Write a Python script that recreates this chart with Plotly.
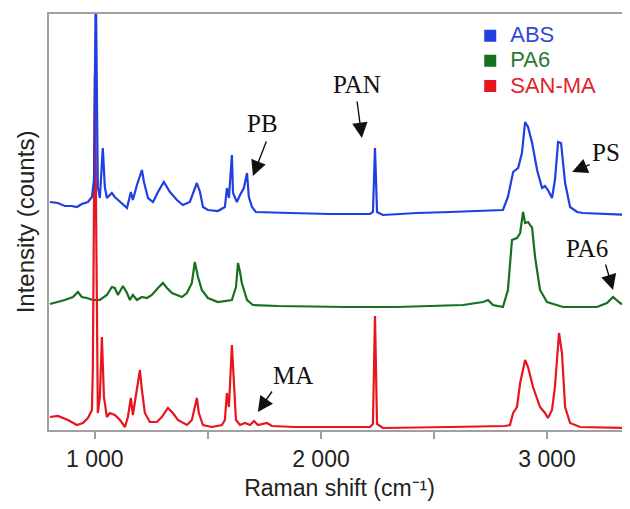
import plotly.graph_objects as go

# ---- data (Raman shift in cm^-1, intensity in arbitrary counts, offset stacked) ----
abs_x = [801, 836, 867, 898, 920, 942, 969, 987, 996, 1004, 1013, 1022, 1035, 1044, 1053, 1075, 1088,
         1111, 1142, 1159, 1168, 1186, 1208, 1217, 1235, 1257, 1279, 1305, 1332, 1363, 1389, 1420, 1438,
         1451, 1465, 1478, 1500, 1544, 1575, 1584, 1593, 1606, 1611, 1628, 1642, 1659, 1673, 1681, 1695,
         1712, 1863, 2040, 2217, 2230, 2239, 2248, 2274, 2425, 2571, 2717, 2805, 2827, 2850, 2872, 2889,
         2903, 2916, 2934, 2956, 2978, 2991, 3004, 3022, 3035, 3049, 3062, 3080, 3102, 3133, 3159, 3235, 3367]
abs_y = [228, 227, 224, 224, 223, 226, 228, 233, 250, 450, 243, 232, 282, 243, 232, 237, 233,
         228, 222, 238, 230, 245, 260, 248, 232, 228, 238, 248, 238, 230, 225, 228, 240,
         247, 238, 223, 220, 219, 223, 242, 232, 275, 237, 228, 235, 242, 257, 233, 223,
         218, 217, 216, 216, 218, 282, 218, 215, 217, 218, 219, 220, 233, 258, 262, 277,
         308, 303, 287, 260, 242, 244, 240, 232, 250, 288, 287, 247, 223, 218, 217, 216, 215]

pa6_x = [801, 867, 903, 925, 942, 965, 991, 1022, 1053, 1075, 1088, 1102, 1124, 1142, 1155, 1168, 1186,
         1208, 1230, 1252, 1279, 1301, 1319, 1341, 1363, 1385, 1407, 1429, 1442, 1456, 1473, 1500, 1544,
         1606, 1624, 1633, 1642, 1650, 1673, 1699, 1810, 2106, 2336, 2628, 2717, 2739, 2761, 2805, 2827,
         2845, 2867, 2881, 2894, 2903, 2916, 2934, 2947, 2969, 3000, 3071, 3221, 3265, 3292, 3323, 3367]
pa6_y = [126, 130, 133, 138, 133, 132, 130, 130, 135, 143, 142, 135, 144, 137, 130, 135, 130,
         133, 132, 135, 142, 147, 142, 137, 135, 133, 137, 147, 168, 153, 140, 132, 128,
         130, 143, 167, 158, 147, 130, 125, 124, 123, 123, 125, 128, 130, 125, 123, 140,
         190, 192, 197, 218, 207, 208, 202, 173, 140, 128, 123, 123, 127, 133, 127, 122]

sanma_x = [801, 836, 881, 920, 947, 969, 987, 991, 1000, 1009, 1013, 1022, 1031, 1040, 1053, 1066, 1088,
           1111, 1133, 1146, 1159, 1168, 1186, 1199, 1208, 1221, 1243, 1274, 1296, 1323, 1345, 1367, 1407,
           1429, 1451, 1460, 1478, 1518, 1562, 1575, 1584, 1593, 1606, 1615, 1624, 1642, 1664, 1686, 1704,
           1721, 1761, 1783, 1885, 2106, 2217, 2230, 2239, 2248, 2274, 2571, 2814, 2836, 2850, 2867, 2881,
           2903, 2916, 2938, 2969, 2991, 3004, 3022, 3035, 3053, 3066, 3080, 3102, 3146, 3367]
sanma_y = [13, 14, 10, 5, 7, 12, 20, 63, 355, 53, 17, 33, 93, 33, 13, 17, 15,
           10, 3, 13, 32, 15, 43, 60, 40, 17, 8, 8, 13, 22, 17, 10, 5,
           10, 32, 17, 5, 3, 5, 10, 37, 23, 85, 53, 10, 5, 7, 5, 9,
           5, 7, 4, 3, 3, 3, 6, 114, 6, 2, 3, 4, 5, 17, 23, 47,
           70, 63, 43, 23, 17, 12, 20, 43, 97, 77, 23, 7, 3, 2]

tick_vals = [1000, 1500, 2000, 2500, 3000]
tick_text = ["1 000", "", "2 000", "", "3 000"]

series_names = ["ABS", "PA6", "SAN-MA"]
line_colors = {"ABS": "#1f3fe0", "PA6": "#17701f", "SAN-MA": "#e8141e"}
text_colors = {"ABS": "#3448d8", "PA6": "#2a7a32", "SAN-MA": "#e0242c"}

# peak labels: (text, label x, label y, arrow tail x, tail y, tip x, tip y)
peak_labels = [
    ("PB", 1743, 307, 1761, 290, 1699, 254),
    ("PAN", 2159, 346, 2159, 330, 2181, 292),
    ("PS", 3262, 278, 3195, 266, 3111, 258),
    ("PA6", 3177, 182, 3257, 167, 3292, 140),
    ("MA", 1876, 55, 1788, 40, 1721, 18),
]

fig = go.Figure()

# spectra (green drawn first, blue on top)
fig.add_trace(go.Scatter(x=pa6_x, y=pa6_y, mode="lines", line=dict(color=line_colors["PA6"], width=2.2),
                         showlegend=False, hoverinfo="skip"))
fig.add_trace(go.Scatter(x=sanma_x, y=sanma_y, mode="lines", line=dict(color=line_colors["SAN-MA"], width=2.2),
                         showlegend=False, hoverinfo="skip"))
fig.add_trace(go.Scatter(x=abs_x, y=abs_y, mode="lines", line=dict(color=line_colors["ABS"], width=2.2),
                         showlegend=False, hoverinfo="skip"))

# legend entries with square swatches and coloured text
for n in series_names:
    fig.add_trace(go.Scatter(x=[None], y=[None], mode="markers",
                             marker=dict(symbol="square", size=10, color=line_colors[n]),
                             name=f"<span style='color:{text_colors[n]};font-size:22px'>{n}</span>"))

for (t, lx, ly, tx, ty, hx, hy) in peak_labels:
    fig.add_annotation(x=lx, y=ly, text=t, showarrow=False,
                       font=dict(family="Liberation Serif, Times New Roman, serif", size=25, color="#111"))
    fig.add_annotation(x=hx, y=hy, ax=tx, ay=ty, axref="x", ayref="y", text="",
                       showarrow=True, arrowhead=2, arrowsize=2.2, arrowwidth=1.4, arrowcolor="#111")

axis_col = "#a0a0a0"
# the page body adds an 8 px offset; keep the figure inside the 630x509 window
fig.update_layout(
    width=622, height=493,
    margin=dict(l=41, r=0, t=6, b=71, autoexpand=False),
    paper_bgcolor="white", plot_bgcolor="white",
    font=dict(family="Liberation Sans, Arial, sans-serif", color="#222"),
    legend=dict(x=0.725, y=0.99, xanchor="left", yanchor="top", bgcolor="rgba(0,0,0,0)",
                font=dict(size=17), tracegroupgap=0, itemsizing="constant"),
    xaxis=dict(range=[797, 3367], showgrid=False, zeroline=False, showline=True, mirror=True,
               linecolor=axis_col, linewidth=2, ticks="outside", ticklen=7, tickcolor=axis_col,
               tickwidth=1.5, tickvals=tick_vals, ticktext=tick_text, tickfont=dict(size=23, color="#222"),
               automargin=False,
               title=dict(text="Raman shift (cm⁻¹)", font=dict(size=23, color="#222"), standoff=9)),
    yaxis=dict(range=[0, 416], showgrid=False, zeroline=False, showline=True, mirror=False,
               linecolor=axis_col, linewidth=2, showticklabels=False, ticks="", automargin=False,
               title=dict(text="Intensity (counts)", font=dict(size=24, color="#222"), standoff=6)),
)

fig.write_html("out.html")
